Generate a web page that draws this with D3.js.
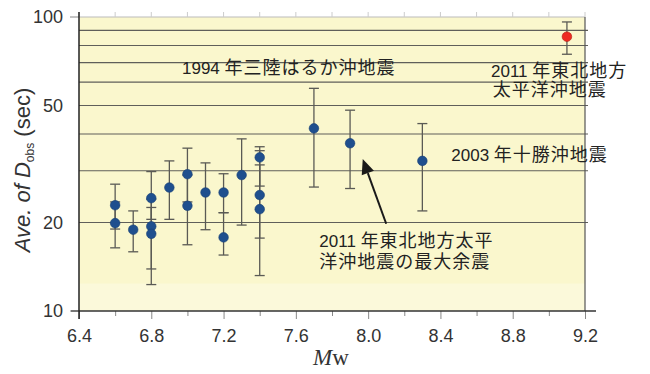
<!DOCTYPE html>
<html>
<head>
<meta charset="utf-8">
<script src="https://cdn.jsdelivr.net/npm/d3@7"></script>
<style>
  body { margin: 0; background: #fff; }
  .tick text { font-family: "Liberation Sans", Arial, sans-serif; font-size: 18px; fill: #333; }
  .note { font-family: "Liberation Sans", "Noto Sans CJK JP", sans-serif; font-size: 18px; fill: #222; }
</style>
</head>
<body>
<div id="chart"></div>
<script>
// magnitude and average duration of observed waves, with error bar ranges
const mw      = [6.6, 6.6, 6.7, 6.8, 6.8, 6.8, 6.9, 7.0, 7.0, 7.1, 7.2, 7.2, 7.3, 7.4, 7.4, 7.4, 7.7, 7.9, 8.3, 9.1];
const dobs    = [22.9, 19.9, 18.9, 24.2, 19.4, 18.3, 26.3, 29.2, 22.8, 25.3, 25.3, 17.8, 29.0, 33.3, 24.8, 22.2, 41.8, 37.2, 32.4, 85.7];
const errLow  = [19.0, 16.4, 15.9, 20.5, 13.9, 12.3, 20.5, 23.5, 16.8, 18.9, 21.6, 15.5, 19.6, 26.6, 17.7, 13.2, 26.4, 26.1, 21.9, 74.7];
const errHigh = [27.0, 23.5, 21.9, 29.8, 24.0, 22.5, 32.4, 35.8, 29.0, 31.9, 29.3, 21.6, 38.5, 36.2, 35.1, 31.4, 57.2, 48.2, 43.4, 96.2];
const mainShock = 9.1;

const xTicks = [6.4, 6.8, 7.2, 7.6, 8.0, 8.4, 8.8, 9.2];
const xMinor = [6.6, 7.0, 7.4, 7.8, 8.2, 8.6, 9.0];
const yTicks = [10, 20, 50, 100];
const gridValues = [20, 30, 40, 50, 60, 70, 80, 90];

// annotation texts, anchored in data units (Mw, sec)
const notes = [
  { num: "1994 ", rest: "年三陸はるか沖地震", mw: 6.97, v: 64.0 },
  { num: "2011 ", rest: "年東北地方", mw: 8.68, v: 62.5 },
  { num: "", rest: "太平洋沖地震", mw: 8.69, v: 53.9 },
  { num: "2003 ", rest: "年十勝沖地震", mw: 8.46, v: 32.4 },
  { num: "2011 ", rest: "年東北地方太平", mw: 7.73, v: 16.5 },
  { num: "", rest: "洋沖地震の最大余震", mw: 7.73, v: 14.0 }
];
const arrowFrom = [8.10, 19.8];
const arrowTo = [7.97, 32.9];

const W = 650, H = 374;
const margin = { top: 17, right: 65, bottom: 63, left: 79 };
const width = W - margin.left - margin.right;
const height = H - margin.top - margin.bottom;

const svg = d3.select("#chart").append("svg")
  .attr("width", W).attr("height", H);

const g = svg.append("g").attr("transform", `translate(${margin.left},${margin.top})`);

const x = d3.scaleLinear().domain([6.4, 9.2]).range([0, width]);
const y = d3.scaleLog().domain([10, 100]).range([height, 0]);

// background
g.append("rect").attr("width", width).attr("height", height).attr("fill", "#faf7cd");
g.append("rect").attr("y", y(12.4)).attr("width", width).attr("height", height - y(12.4)).attr("fill", "#fbf9da");

// top faint border + ticks
g.append("line").attr("x1", 0).attr("x2", width).attr("stroke", "#bbb").attr("stroke-width", 1);
g.selectAll(".top-tick").data(xTicks.concat(xMinor)).enter().append("line")
  .attr("x1", d => x(d)).attr("x2", d => x(d)).attr("y1", 0).attr("y2", -5)
  .attr("stroke", "#ccc");

// horizontal grid
g.selectAll(".grid").data(gridValues).enter().append("line")
  .attr("x1", 0).attr("x2", width + 3)
  .attr("y1", d => y(d)).attr("y2", d => y(d))
  .attr("stroke", "#5f5f5a").attr("stroke-width", 1.2);

// right border
g.append("line").attr("x1", width).attr("x2", width).attr("y1", 0).attr("y2", height)
  .attr("stroke", "#555").attr("stroke-width", 1.2);

// x axis
g.append("g")
  .attr("transform", `translate(0,${height})`)
  .call(d3.axisBottom(x).tickValues(xMinor).tickSize(5).tickSizeOuter(0).tickFormat(""))
  .call(a => a.select(".domain").remove())
  .selectAll("line").attr("stroke", "#888");

g.append("g")
  .attr("transform", `translate(0,${height})`)
  .call(d3.axisBottom(x).tickValues(xTicks).tickSize(8).tickPadding(10).tickSizeOuter(0).tickFormat(d3.format(".1f")))
  .call(a => a.select(".domain").remove())
  .call(a => a.selectAll("line").attr("stroke", "#888"));

g.append("line").attr("x1", -8).attr("x2", width + 11).attr("y1", height).attr("y2", height)
  .attr("stroke", "#333").attr("stroke-width", 1.5);

// y axis
g.append("g")
  .call(d3.axisLeft(y).tickValues(yTicks).tickSize(0).tickPadding(16).tickFormat(d3.format("d")))
  .call(a => a.select(".domain").remove());

g.selectAll(".ytick").data([10, 100]).enter().append("line")
  .attr("x1", -9).attr("x2", 0).attr("y1", d => y(d)).attr("y2", d => y(d))
  .attr("stroke", "#888");

g.append("line").attr("x1", 0).attr("x2", 0).attr("y1", -5).attr("y2", height + 8)
  .attr("stroke", "#222").attr("stroke-width", 1.5);

// error bars
const idx = d3.range(mw.length);
const cap = 5;
const eb = g.selectAll(".err").data(idx).enter().append("g").attr("stroke", "#5a5a55").attr("stroke-width", 1.3);
eb.append("line")
  .attr("x1", i => x(mw[i])).attr("x2", i => x(mw[i]))
  .attr("y1", i => y(errLow[i])).attr("y2", i => y(errHigh[i]));
eb.append("line")
  .attr("x1", i => x(mw[i]) - cap).attr("x2", i => x(mw[i]) + cap)
  .attr("y1", i => y(errLow[i])).attr("y2", i => y(errLow[i]));
eb.append("line")
  .attr("x1", i => x(mw[i]) - cap).attr("x2", i => x(mw[i]) + cap)
  .attr("y1", i => y(errHigh[i])).attr("y2", i => y(errHigh[i]));

// points
g.selectAll(".dot").data(idx).enter().append("circle")
  .attr("cx", i => x(mw[i])).attr("cy", i => y(dobs[i]))
  .attr("r", 4.8)
  .attr("fill", i => mw[i] === mainShock ? "#ee2a22" : "#1f4f8e")
  .attr("stroke", i => mw[i] === mainShock ? "#b01810" : "#173f75")
  .attr("stroke-width", 0.6);

// annotations
const nt = g.selectAll(".note").data(notes).enter().append("text")
  .attr("class", "note")
  .attr("x", d => x(d.mw)).attr("y", d => y(d.v));
nt.append("tspan").attr("font-size", "17px").text(d => d.num);
nt.append("tspan").attr("letter-spacing", "1px").text(d => d.rest);

// arrow
const ax0 = x(arrowFrom[0]), ay0 = y(arrowFrom[1]);
const ax1 = x(arrowTo[0]), ay1 = y(arrowTo[1]);
const ang = Math.atan2(ay1 - ay0, ax1 - ax0);
const headLen = 15, headW = 6.5;
const bx = ax1 - headLen * Math.cos(ang), by = ay1 - headLen * Math.sin(ang);
g.append("line").attr("x1", ax0).attr("y1", ay0).attr("x2", bx).attr("y2", by)
  .attr("stroke", "#1a1a1a").attr("stroke-width", 2);
g.append("path")
  .attr("d", d3.line()([
    [ax1, ay1],
    [bx + headW * Math.sin(ang), by - headW * Math.cos(ang)],
    [bx - headW * Math.sin(ang), by + headW * Math.cos(ang)]
  ]) + "Z")
  .attr("fill", "#1a1a1a");

// axis titles
const yl = svg.append("text")
  .attr("transform", `translate(30,${margin.top + height / 2 + 6}) rotate(-90)`)
  .attr("text-anchor", "middle")
  .attr("font-family", "Liberation Sans, Arial, sans-serif")
  .attr("font-size", "22px").attr("fill", "#333");
yl.append("tspan").attr("font-style", "italic").text("Ave. of D");
yl.append("tspan").attr("font-size", "12px").attr("dy", "4").text("obs");
yl.append("tspan").attr("dy", "-4").text(" (sec)");

const xl = svg.append("text")
  .attr("x", margin.left + width / 2 - 1).attr("y", 365)
  .attr("text-anchor", "middle")
  .attr("font-family", "Liberation Serif, Times New Roman, serif")
  .attr("font-size", "23px").attr("fill", "#333");
xl.append("tspan").attr("font-style", "italic").text("M");
xl.append("tspan").text("w");
</script>
</body>
</html>
